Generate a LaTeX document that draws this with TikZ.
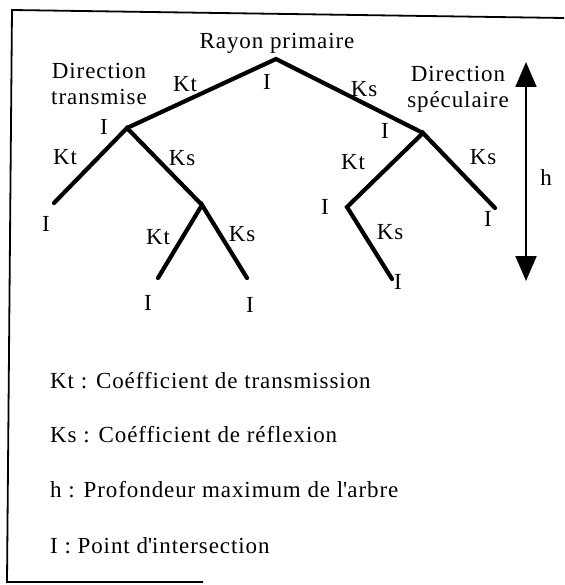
\documentclass[tikz,border=0pt]{standalone}
\usepackage{fontspec}
\setmainfont{Liberation Serif}[LetterSpace=4]
\usetikzlibrary{arrows.meta}

\begin{document}
\begin{tikzpicture}[x=1pt, y=-1pt,
  font=\fontsize{23}{26}\selectfont,
  branch/.style={line width=4.2pt, line cap=round},
  frame/.style={line width=1.8pt},
  lbl/.style={inner sep=0pt},
  legend/.style={inner sep=0pt, anchor=west},
  depth/.style={line width=2pt,
    {Triangle[width=21pt,length=25pt]}-{Triangle[width=21pt,length=25pt]}},
]
\useasboundingbox (0,0) rectangle (564,585);

% ---------- FRAME ----------
\draw[frame] (564,18) -- (12,10) -- (7,582) -- (203,582);

% ---------- TREE ----------
\coordinate (root) at (276,59);
\coordinate (nT)   at (127,128);
\coordinate (nS)   at (423,133);
\coordinate (nTT)  at (54,203);
\coordinate (nTS)  at (202,205);
\coordinate (nTSt) at (158,278);
\coordinate (nTSs) at (247,278);
\coordinate (nSt)  at (347,207);
\coordinate (nSs)  at (495,208);
\coordinate (nSts) at (392,279);

\draw[branch] (nT) -- (root) -- (nS);
\draw[branch] (nTT) -- (nT) -- (nTS);
\draw[branch] (nTSt) -- (nTS) -- (nTSs);
\draw[branch] (nSs) -- (nS) -- (nSt) -- (nSts);

% labels
\node[lbl] (rayon) at (277,43) {Rayon primaire};
\node[lbl, align=center] (dirT) at (99,84) {Direction\\transmise};
\node[lbl, align=center] (dirS) at (458,89) {Direction\\spéculaire};

\node[lbl] (kt1) at (185,84) {Kt};
\node[lbl] (ks1) at (364,89) {Ks};
\node[lbl] (kt2) at (65,157) {Kt};
\node[lbl] (ks2) at (182,158) {Ks};
\node[lbl] (kt3) at (158,237) {Kt};
\node[lbl] (ks3) at (242,234) {Ks};
\node[lbl] (kt4) at (353,162) {Kt};
\node[lbl] (ks4) at (483,157) {Ks};
\node[lbl] (ks5) at (390,232) {Ks};

\node[lbl] (i0) at (267,82) {I};
\node[lbl] (iT) at (104,127) {I};
\node[lbl] (iS) at (385,131) {I};
\node[lbl] (iTT) at (46,224) {I};
\node[lbl] (iTSt) at (148,303) {I};
\node[lbl] (iTSs) at (250,305) {I};
\node[lbl] (iSt) at (325,207) {I};
\node[lbl] (iSs) at (488,219) {I};
\node[lbl] (iSts) at (398,282) {I};

% ---------- DEPTH ARROW ----------
\coordinate (htop) at (526,62);
\coordinate (hbot) at (526,281);
\draw[depth] (hbot) -- (htop);
\node[lbl] (h) at (546,178) {h};

% ---------- LEGEND ----------
\node[legend] (legKt) at (50,381) {Kt : Coéfficient de transmission};
\node[legend] (legKs) at (50,435) {Ks : Coéfficient de réflexion};
\node[legend] (legh)  at (50,490) {h : Profondeur maximum de l\textquotesingle arbre};
\node[legend] (legI)  at (50,546) {I : Point d\textquotesingle intersection};

\end{tikzpicture}
\end{document}
